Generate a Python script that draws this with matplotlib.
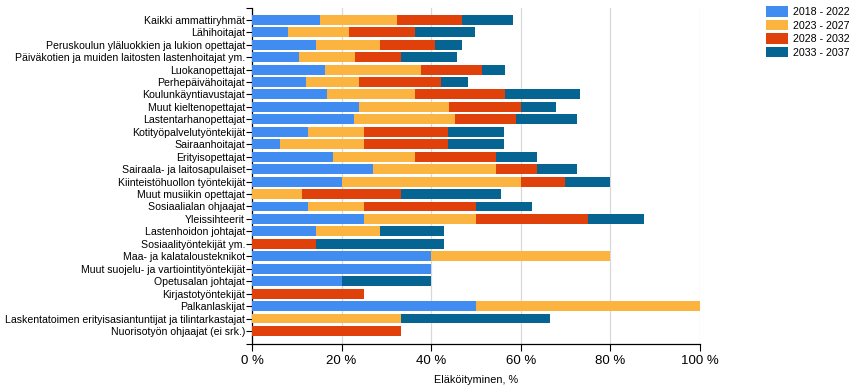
import matplotlib
matplotlib.use("Agg")
import matplotlib.pyplot as plt
import numpy as np

plt.rcParams["font.family"] = ["Liberation Sans", "DejaVu Sans"]

groups = [
    "Kaikki ammattiryhmät", "Lähihoitajat",
    "Peruskoulun yläluokkien ja lukion opettajat",
    "Päiväkotien ja muiden laitosten lastenhoitajat ym.",
    "Luokanopettajat", "Perhepäivähoitajat", "Koulunkäyntiavustajat",
    "Muut kieltenopettajat", "Lastentarhanopettajat",
    "Kotityöpalvelutyöntekijät", "Sairaanhoitajat", "Erityisopettajat",
    "Sairaala- ja laitosapulaiset", "Kiinteistöhuollon työntekijät",
    "Muut musiikin opettajat", "Sosiaalialan ohjaajat", "Yleissihteerit",
    "Lastenhoidon johtajat", "Sosiaalityöntekijät ym.",
    "Maa- ja kalatalousteknikot", "Muut suojelu- ja vartiointityöntekijät",
    "Opetusalan johtajat", "Kirjastotyöntekijät", "Palkanlaskijat",
    "Laskentatoimen erityisasiantuntijat ja tilintarkastajat",
    "Nuorisotyön ohjaajat (ei srk.)",
]
periods = ["2018 - 2022", "2023 - 2027", "2028 - 2032", "2033 - 2037"]

# retirement share (%) per period
p2018 = [15.3, 8.0, 14.2, 10.4, 16.3, 12.0, 16.7, 23.8, 22.7, 12.5, 6.2, 18.0, 27.1,
         20.0, 0, 12.5, 25.0, 14.3, 0, 40.0, 40.0, 20.0, 0, 50.0, 0, 0]
p2023 = [17.0, 13.7, 14.3, 12.6, 21.4, 12.0, 19.8, 20.1, 22.6, 12.5, 18.8, 18.4, 27.3,
         40.0, 11.1, 12.5, 25.0, 14.3, 0, 40.0, 0, 0, 0, 50.0, 33.3, 0]
p2028 = [14.5, 14.6, 12.3, 10.2, 13.6, 18.3, 20.1, 16.1, 13.6, 18.7, 18.7, 18.0, 9.2,
         10.0, 22.2, 25.0, 25.0, 0, 14.3, 0, 0, 0, 25.0, 0, 0, 33.3]
p2033 = [11.4, 13.6, 6.0, 12.5, 5.3, 6.0, 16.6, 7.8, 13.6, 12.5, 12.5, 9.2, 8.9,
         10.0, 22.2, 12.5, 12.5, 14.3, 28.6, 0, 0, 20.0, 0, 0, 33.3, 0]

colors = ["#418CF0", "#FCB441", "#E0400A", "#056492"]

fig = plt.figure(figsize=(8.65, 3.92), dpi=100)
ax = fig.add_axes([0.2913, 0.1224, 0.5177, 0.8576])

y = np.arange(len(groups))
left = np.zeros(len(groups))
for vals, c, lab in zip([p2018, p2023, p2028, p2033], colors, periods):
    ax.barh(y, vals, left=left, height=0.8, color=c, label=lab, zorder=3)
    left += np.array(vals)

ylo, yhi = -0.96, len(groups) - 1 + 1.05
ax.set_ylim(yhi, ylo)
ax.set_xlim(0, 100)
ax.set_yticks(y)
ax.set_yticklabels(groups, fontsize=7.6)
ax.set_yticks([ylo, yhi], minor=True)
ax.tick_params(axis="y", which="both", length=4, width=0.8, pad=1)

ax.set_xticks(range(0, 101, 20))
ax.set_xticklabels([f"{v} %" for v in range(0, 101, 20)], fontsize=9.5)
ax.tick_params(axis="x", length=5, width=0.8, pad=3)
ax.grid(axis="x", color="#d8d8d8", lw=0.9, zorder=0)
ax.set_xlabel("Eläköityminen, %", fontsize=7.8, labelpad=6)

for s in ("top", "right"):
    ax.spines[s].set_visible(False)
for s in ("left", "bottom"):
    ax.spines[s].set_linewidth(0.9)

fig.legend(loc="upper left", bbox_to_anchor=(0.878, 1.0), frameon=False,
           fontsize=7.7, handlelength=2.05, handleheight=1.1,
           labelspacing=0.25, handletextpad=0.45, borderaxespad=0.2)

fig.savefig("out.png", dpi=100)
